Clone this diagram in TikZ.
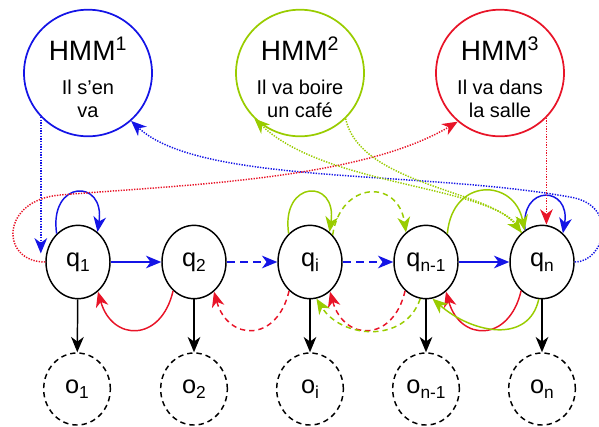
\documentclass[tikz,border=0pt]{standalone}
\usepackage{fontspec}
\setmainfont{Liberation Sans}
\usetikzlibrary{arrows.meta,shapes.geometric,positioning}
\definecolor{hmmblue}{RGB}{20,20,230}
\definecolor{hmmgreen}{RGB}{153,204,0}
\definecolor{hmmred}{RGB}{232,20,40}
\newcommand{\lowidx}[1]{\raisebox{-4pt}{\fontsize{13}{13}\selectfont #1}}
\newcommand{\hmmtitle}[1]{{\fontsize{21}{24}\selectfont\rule{0pt}{24pt}HMM\textsuperscript{#1}}}

\begin{document}
\begin{tikzpicture}[x=0.75pt,y=-0.75pt,
    hmmnode/.style={ellipse,draw,line width=1.3pt,minimum width=96pt,minimum height=88pt,
        inner sep=0pt,align=center,font=\fontsize{15}{17}\selectfont},
    hidden/.style={ellipse,draw,line width=1.1pt,minimum width=48pt,minimum height=55pt,
        inner sep=0pt,font=\fontsize{19}{20}\selectfont},
    observed/.style={hidden,minimum width=50pt,minimum height=54pt,dash pattern=on 4pt off 3pt},
    tip/.style={-{Stealth[length=11.5pt,width=9.5pt,inset=3.5pt]}},
    trans/.style={tip,line width=1.1pt},
    skip/.style={trans,dash pattern=on 6pt off 4pt},
    back/.style={trans,dash pattern=on 4pt off 3pt},
    jump/.style={tip,line width=1.1pt,dash pattern=on 1pt off 1pt}]
\useasboundingbox (0,0) rectangle (599,426);

\node[hmmnode,hmmblue]  (h1) at (88,73)  {\color{black}\hmmtitle{1}\\[9pt]\color{black}Il s’en\\\color{black}va};
\node[hmmnode,hmmgreen] (h2) at (300,73) {\color{black}\hmmtitle{2}\\[9pt]\color{black}Il va boire\\\color{black}un café};
\node[hmmnode,hmmred]   (h3) at (500,73) {\color{black}\hmmtitle{3}\\[9pt]\color{black}Il va dans\\\color{black}la salle};

\node[hidden] (q1)  at (78,262)  {q\lowidx{1}};
\node[hidden] (q2)  at (194,262) {q\lowidx{2}};
\node[hidden] (qi)  at (310,262) {q\lowidx{i}};
\node[hidden] (qn1) at (426,262) {q\lowidx{n-1}};
\node[hidden] (qn)  at (542,262) {q\lowidx{n}};

\node[observed] (o1)  at (77,389)  {o\lowidx{1}};
\node[observed] (o2)  at (194,389) {o\lowidx{2}};
\node[observed] (oi)  at (310,389) {o\lowidx{i}};
\node[observed] (on1) at (426,389) {o\lowidx{n-1}};
\node[observed] (on)  at (542,389) {o\lowidx{n}};

\foreach \q/\o in {q1/o1,q2/o2,qi/oi,qn1/on1,qn/on}
    \draw[trans] (\q) -- (\o);

% forward transitions
\draw[trans,hmmblue] (q1) -- (q2);
\draw[skip,hmmblue]  (q2) -- (qi);
\draw[skip,hmmblue]  (qi) -- (qn1);
\draw[trans,hmmblue] (qn1) -- (qn);

\draw[trans,hmmblue]  (q1.127) .. controls +(-8,-54) and +(8,-54) .. (q1.57);
\draw[trans,hmmgreen] (qi.127) .. controls +(-8,-54) and +(8,-54) .. (qi.57);
\draw[trans,hmmblue]  (qn.118) .. controls +(-5,-47) and +(8,-47) .. (qn.54);
\draw[back,hmmgreen]  (qi.50) .. controls +(8,-54) and +(-8,-54) .. (qn1.124);
\draw[trans,hmmgreen] (qn1.53) .. controls +(5,-57) and +(-10,-52) .. (qn.119);

% backward transitions
\draw[trans,hmmred] (q2.234) .. controls +(-12,52) and +(14,50) .. (q1.-56);
\draw[back,hmmred]  (qi.234) .. controls +(-12,52) and +(14,50) .. (q2.-56);
\draw[back,hmmred]  (qn1.234) .. controls +(-12,52) and +(14,50) .. (qi.-56);
\draw[trans,hmmred] (qn.234) .. controls +(-12,52) and +(14,50) .. (qn1.-56);
\draw[back,hmmgreen]  (qn1.261) .. controls +(-15,45) and +(25,40) .. (qi.-80);
\draw[trans,hmmgreen] (qn.-95) .. controls +(-10,45) and +(40,35) .. (qn1.-80);

% links between the models
\draw[jump,hmmblue] (h1.223) -- (h1.223 |- q1.165);
\draw[jump,hmmblue] (qn.east) .. controls (605,262) and (620,205) .. (570,197)
    .. controls (420,170) and (200,185) .. (h1.-48);
\draw[jump,hmmred] (q1.west) .. controls (0,262) and (0,200) .. (60,195)
    .. controls (180,185) and (360,180) .. (h3.229);
\draw[jump,hmmred] (h3.-44) -- (h3.-44 |- qn.north);
\draw[jump,hmmgreen] (qn.125) .. controls (505,185) and (330,190) .. (h2.225);
\draw[jump,hmmgreen] (h2.-45) .. controls (360,185) and (490,190) .. (qn.125);
\end{tikzpicture}
\end{document}
